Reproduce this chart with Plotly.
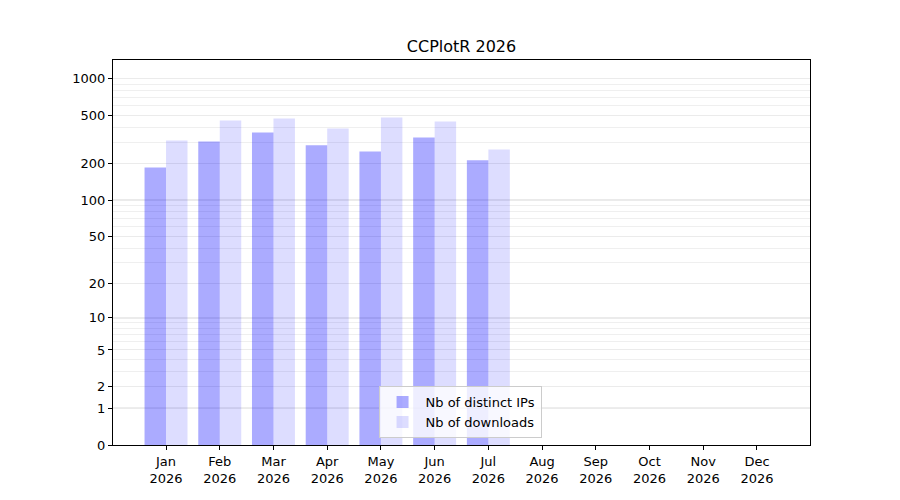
import numpy as np
import plotly.graph_objects as go

months = ['Jan', 'Feb', 'Mar', 'Apr', 'May', 'Jun', 'Jul', 'Aug', 'Sep', 'Oct', 'Nov', 'Dec']
year = '2026'
ips = [186, 305, 361, 283, 252, 329, 213]
downloads = [310, 453, 470, 389, 479, 444, 262]

tick_vals = [0, 1, 2, 5, 10, 20, 50, 100, 200, 500, 1000]
minor_vals = [3, 4, 6, 7, 8, 9, 30, 40, 60, 70, 80, 90, 300, 400, 600, 700, 800, 900]
decades = [1, 10, 100, 1000]


def f(v):
    # log10(1 + x) scale, as in the original chart
    return np.log10(1 + np.asarray(v, dtype=float))


x = list(range(len(ips)))

fig = go.Figure()
fig.add_trace(go.Bar(x=x, y=f(ips), name='Nb of distinct IPs',
                     marker=dict(color='rgba(0,0,255,0.33)', line_width=0),
                     customdata=ips, hovertemplate='%{customdata}<extra></extra>'))
fig.add_trace(go.Bar(x=x, y=f(downloads), name='Nb of downloads',
                     marker=dict(color='rgba(0,0,255,0.135)', line_width=0),
                     customdata=downloads, hovertemplate='%{customdata}<extra></extra>'))

# darker grid lines on the decades
for d in decades:
    fig.add_shape(type='line', xref='paper', yref='y', x0=0, x1=1, y0=f(d), y1=f(d),
                  line=dict(color='#bdbdbd', width=1), layer='below')

# page is drawn with an 8px body margin, so the figure is a bit smaller
fig.update_layout(
    width=884, height=484,
    margin=dict(l=105, r=82, t=52, b=47),
    paper_bgcolor='white', plot_bgcolor='white',
    font=dict(family='DejaVu Sans', size=13, color='black'),
    title=dict(text='CCPlotR ' + year, x=0.5, xanchor='center', xref='paper',
               y=1 - 38 / 484, yanchor='middle', font=dict(size=16)),
    barmode='group', bargap=0.2, bargroupgap=0,
    showlegend=True,
    legend=dict(x=0.381, y=0.018, xanchor='left', yanchor='bottom',
                bgcolor='rgba(255,255,255,0.8)', bordercolor='#cccccc', borderwidth=1,
                font=dict(size=13), tracegroupgap=2, itemwidth=36),
    xaxis=dict(range=[-0.987, 11.987], tickvals=list(range(12)),
               ticktext=[m + '<br>' + year for m in months],
               showgrid=False, zeroline=False, showline=True, mirror=True,
               linecolor='black', linewidth=1, ticks='outside', ticklen=4,
               tickcolor='black', automargin=False),
    yaxis=dict(range=[0, 3.152], tickvals=list(f(tick_vals)),
               ticktext=[str(v) for v in tick_vals],
               showgrid=True, gridcolor='#ebebeb', gridwidth=1,
               minor=dict(tickvals=list(f(minor_vals)), showgrid=True,
                          gridcolor='#efefef', gridwidth=1, ticks=''),
               zeroline=False, showline=True, mirror=True,
               linecolor='black', linewidth=1, ticks='outside', ticklen=4,
               tickcolor='black', automargin=False),
)

fig.write_html("out.html")
